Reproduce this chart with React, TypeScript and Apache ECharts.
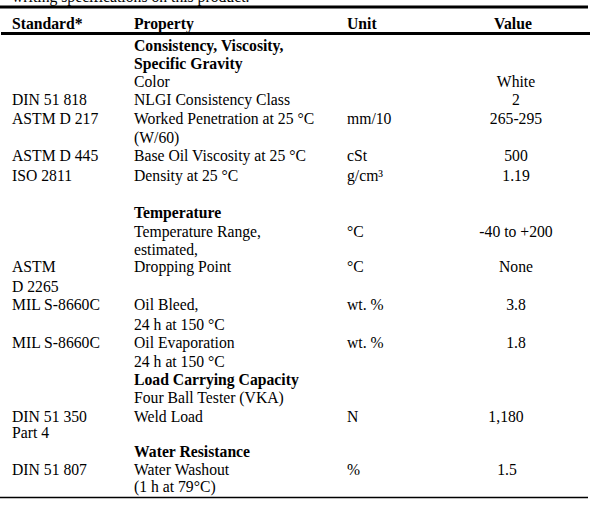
import React, { useEffect, useRef } from "react";
import * as echarts from "echarts";

const introText = "writing specifications on this product.";
const headers = ["Standard*", "Property", "Unit", "Value"];

const standardCol = ["", "", "", "DIN 51 818", "ASTM D 217", "", "ASTM D 445", "ISO 2811", "", "", "", "", "ASTM", "D 2265", "MIL S-8660C", "", "MIL S-8660C", "", "", "", "DIN 51 350", "Part 4", "", "DIN 51 807", ""];
const propertyCol = ["Consistency, Viscosity,", "Specific Gravity", "Color", "NLGI Consistency Class", "Worked Penetration at 25 °C", "(W/60)", "Base Oil Viscosity at 25 °C", "Density at 25 °C", "", "Temperature", "Temperature Range,", "estimated,", "Dropping Point", "", "Oil Bleed,", "24 h at 150 °C", "Oil Evaporation", "24 h at 150 °C", "Load Carrying Capacity", "Four Ball Tester (VKA)", "Weld Load", "", "Water Resistance", "Water Washout", "(1 h at 79°C)"];
const unitCol = ["", "", "", "", "mm/10", "", "cSt", "g/cm³", "", "", "°C", "", "°C", "", "wt. %", "", "wt. %", "", "", "", "N", "", "", "%", ""];
const valueCol = ["", "", "White", "2", "265-295", "", "500", "1.19", "", "", "-40 to +200", "", "None", "", "3.8", "", "1.8", "", "", "", "1,180", "", "", "1.5", ""];
const headingLines = [0, 1, 9, 18, 22];

// layout (not data)
const FONT = "Liberation Serif, Times New Roman, serif";
const FS = 15.7;
const colX = [12, 134, 347];
const valueCenter = 516;
const valueCenterShift: Record<number, number> = { 20: -10, 23: -9 };
const lineY = [45, 63.3, 81.3, 99.2, 118, 137, 155, 175, 194, 212.8, 231.3, 249.5, 266.7, 286, 304.3, 324, 342.3, 361.5, 379.5, 397, 416, 432, 451, 469.7, 486.7];

function txt(text: string, x: number, y: number, bold: boolean, align: string = "left") {
  return {
    type: "text",
    x,
    y,
    silent: true,
    style: {
      text,
      fill: "#000",
      font: `${bold ? "bold " : ""}${FS}px ${FONT}`,
      fontSize: FS,
      fontFamily: FONT,
      fontWeight: bold ? "bold" : "normal",
      textAlign: align,
      align,
      textVerticalAlign: "middle",
      verticalAlign: "middle",
    },
  };
}

function line(x1: number, x2: number, y: number, w: number) {
  return {
    type: "line",
    silent: true,
    shape: { x1, y1: y, x2, y2: y },
    style: { stroke: "#000", lineWidth: w },
  };
}

export default function App() {
  const ref = useRef<HTMLDivElement>(null);
  useEffect(() => {
    if (!ref.current) return;
    const chart = echarts.init(ref.current, undefined, { renderer: "svg" });
    const elements: any[] = [];
    elements.push(txt(introText, 12, -4, false));
    elements.push(line(0, 588, 7, 3.2));
    elements.push(txt(headers[0], colX[0], 23, true));
    elements.push(txt(headers[1], colX[1], 23, true));
    elements.push(txt(headers[2], colX[2], 23, true));
    elements.push(txt(headers[3], 513, 23, true, "center"));
    elements.push(line(1, 590, 33.5, 3.2));
    for (let i = 0; i < propertyCol.length; i++) {
      const y = lineY[i];
      const bold = headingLines.includes(i);
      if (standardCol[i]) elements.push(txt(standardCol[i], colX[0], y, false));
      if (propertyCol[i]) elements.push(txt(propertyCol[i], colX[1], y, bold));
      if (unitCol[i]) elements.push(txt(unitCol[i], colX[2], y, false));
      if (valueCol[i]) elements.push(txt(valueCol[i], valueCenter + (valueCenterShift[i] || 0), y, false, "center"));
    }
    elements.push(line(0, 588, 497.5, 1.5));
    chart.setOption({
      animation: false,
      backgroundColor: "#fff",
      graphic: { elements },
    });
    return () => chart.dispose();
  }, []);
  return (
    <div
      ref={ref}
      style={{ position: "fixed", left: 0, top: 0, width: 602, height: 511, background: "#fff" }}
    />
  );
}
